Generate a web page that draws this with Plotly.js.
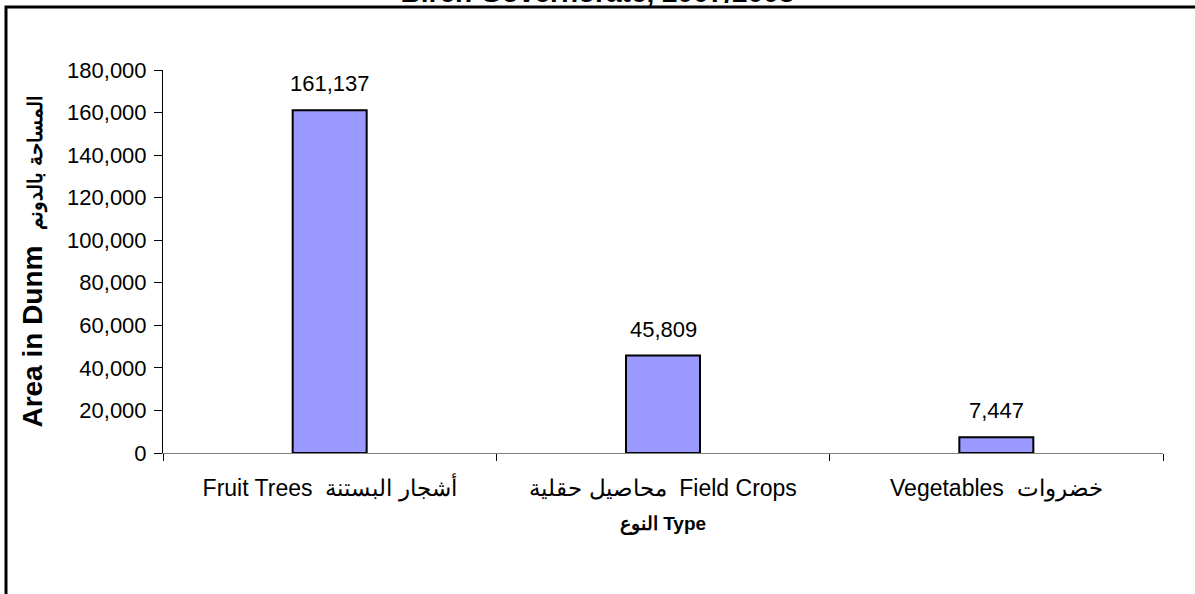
<!DOCTYPE html>
<html>
<head>
<meta charset="utf-8">
<script src="https://cdn.plot.ly/plotly-3.0.1.min.js"></script>
<style>
html,body{margin:0;padding:0;background:#fff;}
#chart{width:1195px;height:594px;}
</style>
</head>
<body>
<div id="chart"></div>
<script>
const categories = ["Fruit Trees  أشجار البستنة", "محاصيل حقلية  Field Crops", "Vegetables  خضروات"];
const areaValues = [161137, 45809, 7447];
const valueLabels = ["161,137", "45,809", "7,447"];
const titleText = "Bireh Governorate, 2007/2008";
const yTitleEn = "Area in Dunm";
const yTitleAr = "المساحة بالدونم";
const xTitle = "النوع Type";

const FONT = "Liberation Sans, Arial, sans-serif";

const trace = {
  type: "bar",
  x: categories,
  y: areaValues,
  marker: {color: "#9999FF", line: {color: "#000", width: 2}},
  hoverinfo: "x+y"
};

const labelAnnotations = categories.map((c, i) => ({
  x: c, y: areaValues[i], xref: "x", yref: "y",
  text: valueLabels[i], showarrow: false,
  yanchor: "bottom", yshift: 12,
  font: {family: FONT, size: 22, color: "#000"}
}));

const layout = {
  width: 1195, height: 594,
  margin: {l: 163, r: 32, t: 70, b: 141},
  paper_bgcolor: "#fff", plot_bgcolor: "#fff",
  showlegend: false,
  bargap: 0.778,
  title: {
    text: "<b>" + titleText + "</b>",
    font: {family: FONT, size: 28, color: "#000"},
    x: 0.5, xanchor: "center",
    yref: "container", y: 0.997, yanchor: "bottom"
  },
  annotations: labelAnnotations,
  xaxis: {
    type: "category",
    showgrid: false, zeroline: false,
    showline: true, linecolor: "#808080", linewidth: 1,
    ticks: "outside", ticklen: 7, tickcolor: "#000", tickwidth: 1,
    tickson: "boundaries",
    ticklabelstandoff: 14,
    tickfont: {family: FONT, size: 23, color: "#000"},
    title: {text: "<b>" + xTitle + "</b>", font: {family: FONT, size: 19, color: "#000"}, standoff: 16}
  },
  yaxis: {
    range: [0, 180000], dtick: 20000, tickformat: ",d",
    showgrid: false, zeroline: false,
    showline: true, linecolor: "#000", linewidth: 1,
    ticks: "outside", ticklen: 8, tickcolor: "#000",
    ticklabelstandoff: 3,
    tickfont: {family: FONT, size: 22, color: "#000"},
    title: {
      text: "<b>" + yTitleEn + "  <span style='font-size:20px'>" + yTitleAr + "</span></b>",
      font: {family: FONT, size: 28, color: "#000"}, standoff: 16
    }
  },
  shapes: [{
    type: "rect", xref: "paper", yref: "paper",
    x0: -0.157, x1: 1.2, y0: -0.6, y1: 1.1645,
    line: {color: "#000", width: 3}, fillcolor: "rgba(0,0,0,0)", layer: "above"
  }]
};

Plotly.newPlot("chart", [trace], layout, {displayModeBar: false, staticPlot: true});
</script>
</body>
</html>
